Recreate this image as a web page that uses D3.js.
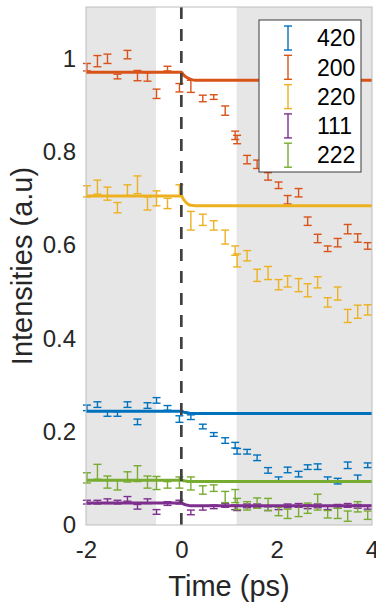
<!DOCTYPE html>
<html>
<head>
<meta charset="utf-8">
<script src="https://cdn.jsdelivr.net/npm/d3@7"></script>
<style>
  html, body { margin: 0; padding: 0; background: #fff; }
  svg { display: block; font-family: "Liberation Sans", Arial, sans-serif; }
</style>
</head>
<body>
<svg id="chart" width="376" height="604"></svg>
<script>
// time points (ps)
var times = [-1.98, -1.76, -1.55, -1.34, -1.13, -0.92, -0.71, -0.52, -0.29, -0.04,
  0.20, 0.45, 0.68, 0.92, 1.13, 1.17, 1.38, 1.59, 1.82, 2.04, 2.23, 2.46, 2.65,
  2.86, 3.07, 3.28, 3.49, 3.70, 3.91];

var seriesNames = ['420', '200', '220', '111', '222'];
var seriesColors = ['#0072BD', '#D95319', '#EDB120', '#7E2F8E', '#77AC30'];

var val420 = [0.251, 0.258, 0.239, 0.238, 0.258, 0.221, 0.256, 0.267, 0.251, 0.227,
  0.231, 0.211, 0.194, 0.181, 0.171, 0.158, 0.157, 0.144, 0.117, 0.099, 0.118, 0.109,
  0.124, 0.125, 0.099, 0.094, 0.128, 0.101, 0.128];
var err420 = [0.006, 0.006, 0.006, 0.005, 0.006, 0.006, 0.006, 0.006, 0.005, 0.007,
  0.005, 0.005, 0.004, 0.006, 0.006, 0.006, 0.005, 0.006, 0.006, 0.004, 0.006, 0.006,
  0.005, 0.006, 0.004, 0.006, 0.007, 0.006, 0.005];

var val200 = [0.981, 0.994, 0.999, 0.961, 1.008, 0.963, 0.960, 0.924, 0.978, 0.937,
  0.940, 0.914, 0.917, 0.888, 0.835, 0.826, 0.783, 0.773, 0.747, 0.728, 0.697, 0.712,
  0.651, 0.614, 0.592, 0.605, 0.634, 0.615, 0.598];
var err200 = [0.008, 0.012, 0.010, 0.005, 0.009, 0.011, 0.009, 0.010, 0.005, 0.009,
  0.013, 0.007, 0.005, 0.010, 0.009, 0.009, 0.009, 0.009, 0.008, 0.007, 0.009, 0.009,
  0.009, 0.009, 0.006, 0.009, 0.010, 0.009, 0.007];

var val220 = [0.715, 0.724, 0.710, 0.680, 0.717, 0.729, 0.689, 0.700, 0.689, 0.717,
  0.652, 0.654, 0.642, 0.617, 0.588, 0.567, 0.577, 0.535, 0.540, 0.515, 0.522, 0.514,
  0.503, 0.520, 0.477, 0.496, 0.448, 0.457, 0.461];
var err220 = [0.012, 0.015, 0.014, 0.011, 0.012, 0.019, 0.014, 0.016, 0.011, 0.012,
  0.020, 0.012, 0.010, 0.015, 0.010, 0.014, 0.011, 0.013, 0.014, 0.011, 0.012, 0.014,
  0.014, 0.012, 0.010, 0.014, 0.014, 0.014, 0.011];

var val111 = [0.049, 0.049, 0.051, 0.049, 0.056, 0.039, 0.051, 0.028, 0.046, 0.049,
  0.027, 0.036, 0.039, 0.042, 0.038, 0.036, 0.041, 0.041, 0.035, 0.037, 0.041, 0.042,
  0.039, 0.041, 0.037, 0.040, 0.042, 0.040, 0.038];
var err111 = [0.004, 0.004, 0.005, 0.004, 0.005, 0.005, 0.005, 0.005, 0.004, 0.004,
  0.005, 0.004, 0.004, 0.004, 0.005, 0.005, 0.004, 0.004, 0.004, 0.004, 0.004, 0.004,
  0.004, 0.004, 0.004, 0.004, 0.004, 0.004, 0.004];

var val222 = [0.101, 0.114, 0.092, 0.086, 0.103, 0.110, 0.092, 0.090, 0.086, 0.091,
  0.089, 0.075, 0.079, 0.060, 0.062, 0.045, 0.041, 0.047, 0.044, 0.029, 0.024, 0.029,
  0.036, 0.049, 0.023, 0.025, 0.019, 0.039, 0.021];
var err222 = [0.011, 0.016, 0.013, 0.011, 0.011, 0.017, 0.013, 0.014, 0.007, 0.012,
  0.014, 0.009, 0.007, 0.012, 0.014, 0.012, 0.009, 0.011, 0.013, 0.009, 0.010, 0.011,
  0.011, 0.017, 0.008, 0.011, 0.011, 0.011, 0.009];

// fitted step curves
var fitTimes = [-2, 0, 0.05, 0.1, 0.15, 0.2, 0.3, 4];
var fit420 = [0.244, 0.244, 0.242, 0.241, 0.240, 0.239, 0.239, 0.239];
var fit200 = [0.970, 0.970, 0.964, 0.960, 0.957, 0.955, 0.953, 0.953];
var fit220 = [0.705, 0.705, 0.697, 0.691, 0.687, 0.685, 0.684, 0.684];
var fit111 = [0.047, 0.047, 0.045, 0.043, 0.042, 0.041, 0.041, 0.041];
var fit222 = [0.096, 0.096, 0.095, 0.094, 0.093, 0.093, 0.093, 0.093];

// shaded time windows
var shadeStart = [-2, 1.16];
var shadeEnd = [-0.53, 4];

var xTicks = [-2, 0, 2, 4];
var yTicks = [0, 0.2, 0.4, 0.6, 0.8, 1];

var values = [val420, val200, val220, val111, val222];
var errors = [err420, err200, err220, err111, err222];
var fits = [fit420, fit200, fit220, fit111, fit222];

var margin = { top: 7, right: 4, bottom: 79, left: 86 };
var width = 376, height = 604;

var svg = d3.select('#chart');

var x = d3.scaleLinear().domain([-2, 4]).range([margin.left, width - margin.right]);
var y = d3.scaleLinear().domain([0, 1.11]).range([height - margin.bottom, margin.top]);

// background + shading
svg.append('rect')
  .attr('x', x(-2)).attr('y', y(1.11))
  .attr('width', x(4) - x(-2)).attr('height', y(0) - y(1.11))
  .attr('fill', '#fff');

svg.append('g').selectAll('rect')
  .data(shadeStart)
  .join('rect')
  .attr('x', d => x(d))
  .attr('y', y(1.11))
  .attr('width', (d, i) => x(shadeEnd[i]) - x(d))
  .attr('height', y(0) - y(1.11))
  .attr('fill', '#e6e6e6');

// error bars
var capW = 4;
seriesNames.forEach(function(name, s) {
  var pts = times.map((t, i) => ({ t: t, v: values[s][i], e: errors[s][i] }));
  var g = svg.append('g')
    .attr('stroke', seriesColors[s])
    .attr('stroke-width', 1.4)
    .attr('fill', 'none');
  var bars = g.selectAll('g').data(pts).join('g');
  bars.append('line')
    .attr('x1', d => x(d.t)).attr('x2', d => x(d.t))
    .attr('y1', d => y(d.v - d.e)).attr('y2', d => y(d.v + d.e));
  bars.append('line')
    .attr('x1', d => x(d.t) - capW).attr('x2', d => x(d.t) + capW)
    .attr('y1', d => y(d.v + d.e)).attr('y2', d => y(d.v + d.e));
  bars.append('line')
    .attr('x1', d => x(d.t) - capW).attr('x2', d => x(d.t) + capW)
    .attr('y1', d => y(d.v - d.e)).attr('y2', d => y(d.v - d.e));
});

// fit lines
var line = d3.line()
  .x(d => x(d[0]))
  .y(d => y(d[1]))
  .curve(d3.curveMonotoneX);

seriesNames.forEach(function(name, s) {
  svg.append('path')
    .datum(fitTimes.map((t, i) => [t, fits[s][i]]))
    .attr('d', line)
    .attr('fill', 'none')
    .attr('stroke', seriesColors[s])
    .attr('stroke-width', 3);
});

// time zero marker
svg.append('line')
  .attr('x1', x(0)).attr('x2', x(0))
  .attr('y1', y(1.11)).attr('y2', y(0))
  .attr('stroke', '#404040')
  .attr('stroke-width', 2.7)
  .attr('stroke-dasharray', '12,10');

// axes box
svg.append('rect')
  .attr('x', x(-2)).attr('y', y(1.11))
  .attr('width', x(4) - x(-2)).attr('height', y(0) - y(1.11))
  .attr('fill', 'none')
  .attr('stroke', '#bdbdbd')
  .attr('stroke-width', 1);

// axes
var xAxis = svg.append('g')
  .attr('transform', 'translate(0,' + y(0) + ')')
  .call(d3.axisBottom(x).tickValues(xTicks).tickSize(0).tickPadding(16).tickFormat(d3.format('d')));
var yAxis = svg.append('g')
  .attr('transform', 'translate(' + x(-2) + ',0)')
  .call(d3.axisLeft(y).tickValues(yTicks).tickSize(0).tickPadding(10).tickFormat(d => d === 0 || d === 1 ? d3.format('d')(d) : d3.format('.1f')(d)));

[xAxis, yAxis].forEach(function(a) {
  a.select('.domain').remove();
  a.selectAll('text')
    .attr('fill', '#262626')
    .style('font-size', '24px')
    .style('font-family', '"Liberation Sans", Arial, sans-serif');
});
xAxis.selectAll('text').text(d => d < 0 ? '-' + Math.abs(d) : d);

// axis titles
svg.append('text')
  .attr('x', (x(-2) + x(4)) / 2)
  .attr('y', 596)
  .attr('text-anchor', 'middle')
  .attr('fill', '#262626')
  .style('font-size', '29px')
  .text('Time (ps)');

svg.append('text')
  .attr('transform', 'translate(32,' + ((y(0) + y(1.11)) / 2) + ') rotate(-90)')
  .attr('text-anchor', 'middle')
  .attr('fill', '#262626')
  .style('font-size', '29px')
  .text('Intensities (a.u)');

// legend
var legend = svg.append('g').attr('transform', 'translate(259,20)');
legend.append('rect')
  .attr('width', 102).attr('height', 152)
  .attr('fill', '#fff')
  .attr('stroke', '#3a3a3a')
  .attr('stroke-width', 1);

var items = legend.selectAll('g.item')
  .data(seriesNames)
  .join('g')
  .attr('class', 'item')
  .attr('transform', (d, i) => 'translate(0,' + (18 + i * 29.3) + ')');

items.each(function(d, i) {
  var it = d3.select(this);
  var c = seriesColors[i];
  it.append('line').attr('x1', 29).attr('x2', 29).attr('y1', -12).attr('y2', 12)
    .attr('stroke', c).attr('stroke-width', 1.4);
  it.append('line').attr('x1', 25).attr('x2', 33).attr('y1', -12).attr('y2', -12)
    .attr('stroke', c).attr('stroke-width', 1.4);
  it.append('line').attr('x1', 25).attr('x2', 33).attr('y1', 12).attr('y2', 12)
    .attr('stroke', c).attr('stroke-width', 1.4);
  it.append('text')
    .attr('x', 58)
    .attr('y', 0)
    .attr('dy', '0.36em')
    .attr('fill', '#000')
    .style('font-size', '23px')
    .text(d);
});
</script>
</body>
</html>
